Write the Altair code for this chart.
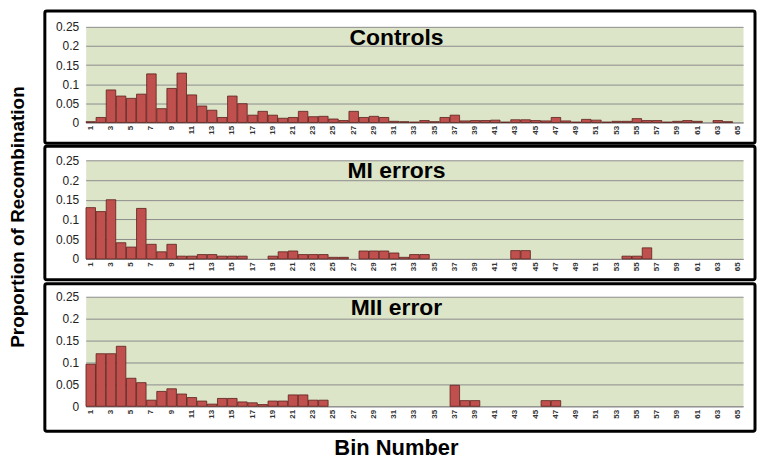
import altair as alt
import pandas as pd

bins = list(range(1, 66))

controls = [0.002, 0.013, 0.085, 0.069, 0.063, 0.074, 0.127, 0.036, 0.089, 0.129,
            0.072, 0.043, 0.032, 0.013, 0.069, 0.049, 0.019, 0.029, 0.019, 0.011,
            0.013, 0.029, 0.015, 0.016, 0.009, 0.005, 0.029, 0.013, 0.016, 0.013,
            0.003, 0.002, 0.001, 0.005, 0.002, 0.013, 0.019, 0.004, 0.005, 0.005,
            0.006, 0.001, 0.007, 0.007, 0.005, 0.004, 0.013, 0.004, 0.001, 0.008,
            0.006, 0.001, 0.003, 0.003, 0.010, 0.005, 0.005, 0.001, 0.003, 0.005,
            0.003, 0.0, 0.005, 0.002, 0.0]

mi_errors = [0.130, 0.120, 0.150, 0.041, 0.030, 0.128, 0.037, 0.018, 0.037, 0.007,
             0.007, 0.011, 0.011, 0.007, 0.007, 0.007, 0.0, 0.0, 0.007, 0.018,
             0.020, 0.011, 0.011, 0.011, 0.004, 0.004, 0.0, 0.020, 0.020, 0.020,
             0.015, 0.004, 0.011, 0.011, 0.0, 0.0, 0.0, 0.0, 0.0, 0.0,
             0.0, 0.0, 0.021, 0.021, 0.0, 0.0, 0.0, 0.0, 0.0, 0.0,
             0.0, 0.0, 0.0, 0.007, 0.007, 0.028, 0.0, 0.0, 0.0, 0.0,
             0.0, 0.0, 0.0, 0.0, 0.0]

mii_error = [0.096, 0.120, 0.120, 0.137, 0.064, 0.054, 0.014, 0.034, 0.040, 0.028,
             0.020, 0.012, 0.005, 0.018, 0.018, 0.010, 0.008, 0.004, 0.012, 0.012,
             0.026, 0.026, 0.014, 0.014, 0.0, 0.0, 0.0, 0.0, 0.0, 0.0,
             0.0, 0.0, 0.0, 0.0, 0.0, 0.0, 0.048, 0.013, 0.013, 0.0,
             0.0, 0.0, 0.0, 0.0, 0.0, 0.013, 0.013, 0.0, 0.0, 0.0,
             0.0, 0.0, 0.0, 0.0, 0.0, 0.0, 0.0, 0.0, 0.0, 0.0,
             0.0, 0.0, 0.0, 0.0, 0.0]

panel_titles = ["Controls", "MI errors", "MII error"]
y_ticks = [0, 0.05, 0.1, 0.15, 0.2, 0.25]
x_label_bins = list(range(1, 66, 2))
y_title = "Proportion of Recombination"
x_title = "Bin Number"

W = 660
HEIGHTS = [96, 99, 110]
BOX = [(-16, 21), (-14, 21), (-13, 25)]
FONT = "Liberation Sans"


def one():
    return alt.Data(values=[{}])


def panel(values, title, h, box, extra=None):
    df = pd.DataFrame({"bin": bins, "value": values})
    bars = alt.Chart(df).transform_filter("datum.value > 0").mark_bar(
        fill="#C0504D", stroke="#5a1f1d", strokeWidth=0.8
    ).encode(
        x=alt.X("bin:O",
                scale=alt.Scale(domain=bins, paddingInner=0.06, paddingOuter=0.03),
                axis=alt.Axis(values=x_label_bins, title=None, labelAngle=270,
                              labelFontSize=8, labelFontWeight="bold", ticks=False,
                              domainColor="#8c8c8c", labelPadding=3,
                              labelColor="#333333")),
        y=alt.Y("value:Q",
                scale=alt.Scale(domain=[0, 0.25], nice=False),
                axis=alt.Axis(values=y_ticks, format="~g", title=None, grid=True,
                              gridColor="#8c8c8c", gridWidth=1, domain=False,
                              ticks=False, labelFontSize=12, labelPadding=7,
                              labelColor="#222222")),
    )
    frame = alt.Chart(one()).mark_rect(
        fillOpacity=0, stroke="black", strokeWidth=3, cornerRadius=2, clip=False
    ).encode(
        x=alt.value(-41), x2=alt.value(W + 12),
        y=alt.value(box[0]), y2=alt.value(h + box[1]),
    )
    ttl = alt.Chart(one()).mark_text(
        font=FONT, fontWeight="bold", fontSize=23, align="center",
        baseline="middle", color="black"
    ).encode(x=alt.value(312), y=alt.value(11), text=alt.value(title))
    layers = [bars, frame, ttl]
    if extra is not None:
        layers.extend(extra)
    return alt.layer(*layers).properties(width=W, height=h)


ytitle = alt.Chart(one()).mark_text(
    font=FONT, fontWeight="bold", fontSize=19, align="center",
    baseline="middle", angle=270, color="black"
).encode(x=alt.value(-68), y=alt.value(57), text=alt.value(y_title))

xtitle = alt.Chart(one()).mark_text(
    font=FONT, fontWeight="bold", fontSize=22, align="center",
    baseline="middle", color="black"
).encode(x=alt.value(312), y=alt.value(HEIGHTS[2] + BOX[2][1] + 17),
         text=alt.value(x_title))

p1 = panel(controls, panel_titles[0], HEIGHTS[0], BOX[0])
p2 = panel(mi_errors, panel_titles[1], HEIGHTS[1], BOX[1], [ytitle])
p3 = panel(mii_error, panel_titles[2], HEIGHTS[2], BOX[2], [xtitle])

chart = alt.vconcat(p1, p2, p3, spacing=38, bounds="flush", padding=0).configure_view(
    fill="#DDE5C8", stroke="transparent"
).configure_axis(
    labelFont=FONT
).properties(background="white")

chart.save("out.html", embed_options={"renderer": "svg", "actions": False})
